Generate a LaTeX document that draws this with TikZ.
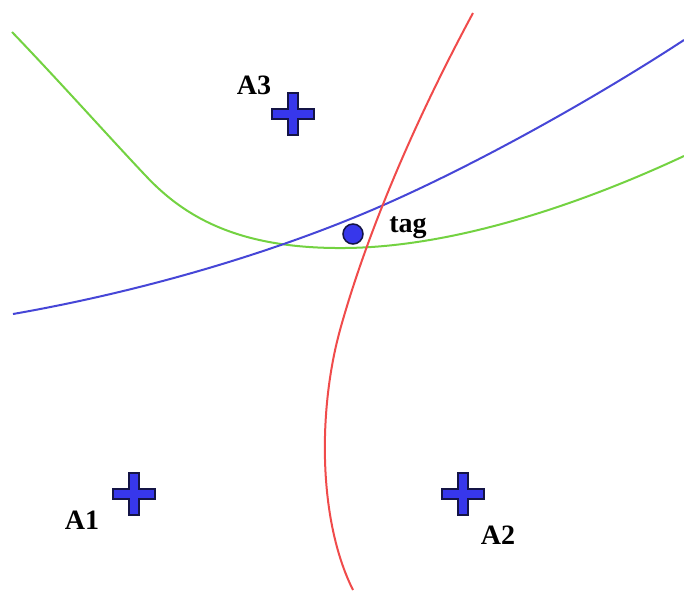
\documentclass[tikz,border=0pt]{standalone}
\usepackage{fontspec}
\setmainfont{Liberation Serif}
\definecolor{cgreen}{RGB}{115,210,65}
\definecolor{cblue}{RGB}{70,70,215}
\definecolor{cred}{RGB}{240,75,75}
\definecolor{cfill}{RGB}{55,55,235}
\definecolor{cedge}{RGB}{20,20,70}
\tikzset{
  curve/.style={line width=2pt, line join=round},
  lbl/.style={font=\fontsize{28}{32}\selectfont\bfseries, inner sep=0pt, text=black},
  pics/plusmark/.style={code={
    \draw[fill=cfill, draw=cedge, line width=1.5pt]
      (-5,-21) -- (5,-21) -- (5,-5) -- (21,-5) -- (21,5) -- (5,5) -- (5,21)
      -- (-5,21) -- (-5,5) -- (-21,5) -- (-21,-5) -- (-5,-5) -- cycle;
  }},
}
\begin{document}
\begin{tikzpicture}[x=1pt,y=-1pt]
\useasboundingbox[fill=white] (0,0) rectangle (684,592);
% curves
\draw[curve, cgreen] (12,32) .. controls (60,82) and (110,138) .. (145,175)
  .. controls (185,218) and (240,249) .. (345,248)
  .. controls (460,247) and (590,200) .. (684,156);
\draw[curve, cblue] (13,314) .. controls (150,290) and (280,250) .. (379,207)
  .. controls (480,163) and (600,95) .. (684,40);
\draw[curve, cred] (473,13) .. controls (410,130) and (365,240) .. (340,330)
  .. controls (318,410) and (318,520) .. (353,590);
% anchors
\pic (p3) at (293,114) {plusmark};
\pic (p1) at (134,494) {plusmark};
\pic (p2) at (463,494) {plusmark};
% tag dot
\node[circle, fill=cfill, draw=cedge, line width=1.5pt, minimum size=20pt, inner sep=0pt] (tagdot) at (353,234) {};
% labels
\node[lbl] (l3) at (254,85) {A3};
\node[lbl] (l1) at (82,520) {A1};
\node[lbl] (l2) at (498,535) {A2};
\node[lbl] (ltag) at (408,228) {tag};
\end{tikzpicture}
\end{document}
